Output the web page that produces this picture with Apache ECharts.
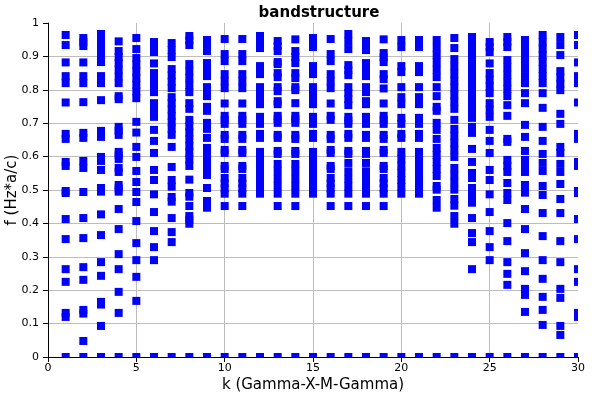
<!DOCTYPE html>
<html>
<head>
<meta charset="utf-8">
<script src="https://cdn.jsdelivr.net/npm/echarts@6/dist/echarts.min.js"></script>
<style>html,body{margin:0;padding:0;background:#fff}#c{width:600px;height:400px}</style>
</head>
<body>
<div id="c"></div>
<script>
// ---- data: band frequencies f (Hz*a/c) at each k point ----
const kPoints = [1,2,3,4,5,6,7,8,9,10,11,12,13,14,15,16,17,18,19,20,21,22,23,24,25,26,27,28,29,30];
const xTicks = [0,5,10,15,20,25,30];
const yTicks = [0,0.1,0.2,0.3,0.4,0.5,0.6,0.7,0.8,0.9,1];

const f01 = [0,0.120,0.132,0.225,0.263,0.353,0.413,0.491,0.497,0.572,0.584,0.653,0.668,0.762,0.820,0.841,0.882,0.934,0.964];
const f02 = [0,0.048,0.130,0.141,0.231,0.269,0.356,0.416,0.494,0.566,0.587,0.656,0.671,0.763,0.820,0.841,0.882,0.931,0.943,0.955];
const f03 = [0,0.093,0.157,0.165,0.243,0.284,0.365,0.427,0.495,0.506,0.560,0.587,0.599,0.659,0.677,0.769,0.820,0.841,0.883,0.903,0.925,0.946,0.967];
const f04 = [0,0.132,0.195,0.263,0.308,0.383,0.443,0.495,0.505,0.515,0.554,0.566,0.593,0.604,0.614,0.665,0.677,0.689,0.772,0.781,0.820,0.840,0.860,0.880,0.898,0.916,0.945];
const f05 = [0,0.168,0.240,0.290,0.341,0.407,0.464,0.494,0.524,0.557,0.599,0.629,0.672,0.704,0.775,0.795,0.815,0.835,0.855,0.875,0.895,0.922,0.955];
const f06 = [0,0.290,0.329,0.377,0.434,0.487,0.530,0.560,0.611,0.647,0.680,0.719,0.740,0.760,0.793,0.812,0.831,0.850,0.879,0.913,0.928,0.943];
const f07 = [0,0.344,0.374,0.416,0.465,0.479,0.510,0.530,0.569,0.629,0.665,0.684,0.703,0.722,0.741,0.760,0.778,0.805,0.824,0.843,0.862,0.898,0.919,0.940];
const f08 = [0,0.399,0.411,0.422,0.452,0.480,0.491,0.531,0.572,0.592,0.612,0.632,0.652,0.672,0.691,0.710,0.743,0.760,0.793,0.814,0.835,0.856,0.877,0.934,0.948,0.961];
const f09 = [0,0.447,0.467,0.506,0.545,0.565,0.585,0.606,0.626,0.656,0.683,0.701,0.737,0.749,0.781,0.795,0.808,0.841,0.861,0.880,0.916,0.933,0.949];
const f10 = [0,0.452,0.489,0.505,0.520,0.536,0.563,0.572,0.611,0.620,0.653,0.665,0.698,0.710,0.722,0.759,0.805,0.826,0.847,0.886,0.907,0.952];
const f11 = [0,0.452,0.489,0.505,0.520,0.536,0.563,0.572,0.611,0.620,0.653,0.665,0.698,0.710,0.722,0.759,0.805,0.826,0.847,0.886,0.907,0.952];
const f12 = [0,0.489,0.510,0.530,0.551,0.572,0.593,0.614,0.656,0.668,0.698,0.708,0.719,0.757,0.774,0.791,0.808,0.847,0.859,0.871,0.925,0.943,0.961];
const f13 = [0,0.452,0.489,0.511,0.533,0.556,0.578,0.608,0.617,0.656,0.665,0.701,0.712,0.722,0.757,0.766,0.796,0.808,0.838,0.850,0.877,0.883,0.916,0.931,0.946];
const f14 = [0,0.452,0.489,0.511,0.533,0.556,0.578,0.608,0.617,0.653,0.665,0.701,0.712,0.722,0.760,0.799,0.808,0.835,0.850,0.880,0.898,0.916,0.951];
const f15 = [0,0.489,0.510,0.530,0.551,0.572,0.593,0.614,0.656,0.668,0.698,0.708,0.719,0.757,0.774,0.791,0.808,0.847,0.859,0.871,0.928,0.941,0.955];
const f16 = [0,0.452,0.489,0.505,0.520,0.536,0.563,0.572,0.611,0.620,0.653,0.665,0.710,0.722,0.759,0.805,0.826,0.847,0.886,0.907,0.952];
const f17 = [0,0.452,0.489,0.511,0.533,0.556,0.581,0.608,0.617,0.656,0.668,0.698,0.708,0.719,0.754,0.772,0.790,0.808,0.844,0.859,0.874,0.922,0.945,0.967];
const f18 = [0,0.452,0.489,0.511,0.533,0.556,0.581,0.608,0.617,0.656,0.665,0.698,0.708,0.719,0.757,0.766,0.793,0.808,0.841,0.861,0.880,0.919,0.933,0.946];
const f19 = [0,0.452,0.489,0.505,0.520,0.536,0.563,0.572,0.611,0.620,0.653,0.665,0.698,0.710,0.722,0.759,0.804,0.832,0.847,0.883,0.897,0.910,0.951];
const f20 = [0,0.489,0.510,0.530,0.551,0.572,0.593,0.614,0.656,0.668,0.698,0.716,0.757,0.778,0.808,0.853,0.871,0.928,0.949];
const f21 = [0,0.489,0.510,0.530,0.551,0.572,0.593,0.614,0.656,0.668,0.698,0.716,0.757,0.778,0.808,0.853,0.871,0.928,0.949];
const f22 = [0,0.447,0.470,0.501,0.512,0.542,0.563,0.584,0.605,0.626,0.653,0.680,0.701,0.737,0.749,0.781,0.808,0.838,0.860,0.882,0.904,0.926,0.949];
const f23 = [0,0.399,0.422,0.453,0.473,0.501,0.522,0.544,0.566,0.599,0.620,0.641,0.662,0.683,0.710,0.743,0.764,0.785,0.806,0.827,0.848,0.870,0.892,0.925,0.955];
const f24 = [0,0.263,0.344,0.371,0.416,0.462,0.485,0.506,0.536,0.551,0.584,0.623,0.671,0.689,0.716,0.736,0.756,0.776,0.796,0.816,0.836,0.856,0.876,0.896,0.917,0.938,0.958];
const f25 = [0,0.290,0.329,0.377,0.434,0.487,0.530,0.560,0.611,0.647,0.680,0.719,0.740,0.760,0.790,0.810,0.830,0.850,0.879,0.913,0.928,0.943];
const f26 = [0,0.216,0.249,0.284,0.347,0.401,0.470,0.491,0.521,0.554,0.572,0.590,0.644,0.653,0.722,0.754,0.781,0.802,0.823,0.845,0.867,0.889,0.928,0.943,0.958];
const f27 = [0,0.135,0.186,0.204,0.257,0.311,0.383,0.443,0.492,0.515,0.554,0.572,0.590,0.617,0.659,0.695,0.760,0.790,0.820,0.841,0.863,0.885,0.906,0.928,0.949];
const f28 = [0,0.096,0.141,0.180,0.234,0.290,0.362,0.431,0.485,0.512,0.557,0.581,0.608,0.647,0.689,0.746,0.790,0.820,0.841,0.862,0.883,0.903,0.923,0.943,0.964];
const f29 = [0,0.066,0.093,0.177,0.204,0.284,0.347,0.431,0.473,0.518,0.554,0.578,0.611,0.629,0.698,0.728,0.799,0.818,0.837,0.856,0.904,0.934,0.958];
const f30 = [0,0.120,0.132,0.225,0.263,0.353,0.413,0.491,0.497,0.572,0.584,0.653,0.668,0.762,0.820,0.841,0.882,0.934,0.964];

const bands = [f01,f02,f03,f04,f05,f06,f07,f08,f09,f10,f11,f12,f13,f14,f15,f16,f17,f18,f19,f20,f21,f22,f23,f24,f25,f26,f27,f28,f29,f30];

// ---- build dataset ----
const points = [];
kPoints.forEach((k, i) => { bands[i].forEach(f => points.push([k, f])); });

const FONT = 'DejaVu Sans';
const chart = echarts.init(document.getElementById('c'), null, {renderer: 'canvas'});
chart.setOption({
  animation: false,
  backgroundColor: '#ffffff',
  title: {
    text: 'bandstructure',
    left: 314, top: 1, textAlign: 'center',
    textStyle: {fontFamily: FONT, fontSize: 15, fontWeight: 'bold', color: '#000'}
  },
  grid: {left: 48, right: 22, top: 23, bottom: 43, containLabel: false, outerBoundsMode: 'none'},
  xAxis: {
    type: 'value', min: 0, max: 30, interval: 5,
    name: 'k (Gamma-X-M-Gamma)', nameLocation: 'middle', nameGap: 21, nameMoveOverlap: false,
    nameTextStyle: {fontFamily: FONT, fontSize: 15, color: '#000'},
    axisLine: {show: true, onZero: false, lineStyle: {color: '#000', width: 1}},
    axisTick: {show: true, inside: false, length: 5, lineStyle: {color: '#000'}},
    axisLabel: {fontFamily: FONT, fontSize: 11, color: '#000', margin: 6,
      formatter: v => xTicks.includes(v) ? String(v) : ''},
    splitLine: {show: true, showMaxLine: false, lineStyle: {color: '#bdbdbd', width: 1}}
  },
  yAxis: {
    type: 'value', min: 0, max: 1, interval: 0.1,
    name: 'f (Hz*a/c)', nameLocation: 'middle', nameGap: 28, nameMoveOverlap: false,
    nameTextStyle: {fontFamily: FONT, fontSize: 15, color: '#000'},
    axisLine: {show: true, onZero: false, lineStyle: {color: '#000', width: 1}},
    axisTick: {show: true, inside: false, length: 5, lineStyle: {color: '#000'}},
    axisLabel: {fontFamily: FONT, fontSize: 11, color: '#000', margin: 9,
      formatter: v => { const t = yTicks.find(y => Math.abs(y - v) < 1e-9); return t === undefined ? '' : String(t); }},
    splitLine: {show: true, showMaxLine: false, lineStyle: {color: '#bdbdbd', width: 1}}
  },
  series: [{
    type: 'custom',
    clip: true,
    silent: true,
    data: points,
    renderItem: (params, api) => {
      const p = api.coord([api.value(0), api.value(1)]);
      return {type: 'rect', shape: {x: p[0] - 4, y: p[1] - 4, width: 8, height: 8},
              style: {fill: '#0000ff'}};
    }
  }]
});
</script>
</body>
</html>
